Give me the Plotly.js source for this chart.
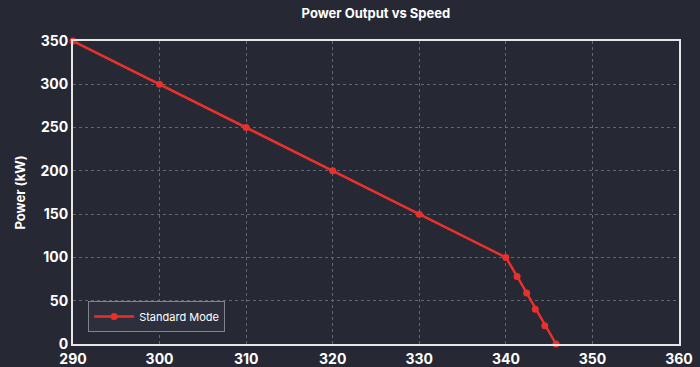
<!DOCTYPE html>
<html><head><meta charset="utf-8">
<script src="https://cdn.plot.ly/plotly-3.0.1.min.js"></script>
<style>html,body{margin:0;padding:0;background:#262834;}#chart{width:700px;height:367px;}</style>
</head><body><div id="chart"></div>
<script>
const speed = [290, 300, 310, 320, 330, 340, 341.3, 342.4, 343.4, 344.5, 345.8];
const power = [350, 300, 250, 200, 150, 100, 78, 59, 40, 21, 0];
const seriesName = 'Standard Mode';

const trace = {
  x: speed, y: power, name: seriesName, type: 'scatter', mode: 'lines+markers',
  line: {color: '#e8302d', width: 2.5},
  marker: {color: '#e8302d', size: 7},
  cliponaxis: false
};
const layout = {
  width: 700, height: 367,
  paper_bgcolor: '#262834', plot_bgcolor: '#262834',
  margin: {l: 73, r: 21, t: 41, b: 23},
  font: {family: 'Inter, Roboto, sans-serif', color: '#ffffff'},
  title: {text: '<b>Power Output vs Speed</b>', x: 0.537, xanchor: 'center', y: 0.975, yanchor: 'top', font: {size: 13, color: '#ffffff'}},
  xaxis: {range: [290, 360], dtick: 10, tick0: 290, showgrid: true, gridcolor: '#64666f', griddash: 'dot', gridwidth: 1,
    showline: true, linecolor: '#e6e6e6', linewidth: 2, mirror: true, zeroline: false,
    ticks: '', ticklabelstandoff: 1, tickfont: {size: 14, color: '#ffffff', weight: 'bold'}},
  yaxis: {range: [0, 350], dtick: 50, showgrid: true, gridcolor: '#64666f', griddash: 'dot', gridwidth: 1,
    showline: true, linecolor: '#e6e6e6', linewidth: 2, mirror: true, zeroline: false,
    ticks: '', tickfont: {size: 14, color: '#ffffff', weight: 'bold'},
    title: {text: '<b>Power (kW)</b>', font: {size: 13, color: '#ffffff'}, standoff: 12}},
  showlegend: true,
  legend: {x: 0.025, y: 0.04, xanchor: 'left', yanchor: 'bottom', bgcolor: '#2d2f3c', bordercolor: '#80828c', borderwidth: 1,
    itemwidth: 40, font: {size: 11, color: '#ffffff'}}
};
Plotly.newPlot('chart', [trace], layout, {displayModeBar: false});
</script></body></html>
